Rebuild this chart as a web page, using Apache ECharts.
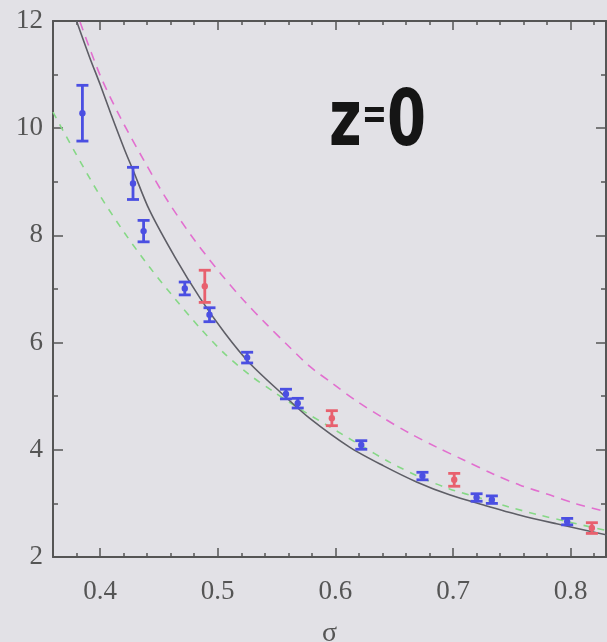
<!DOCTYPE html>
<html>
<head>
<meta charset="utf-8">
<script src="https://cdn.jsdelivr.net/npm/echarts@6/dist/echarts.min.js"></script>
<style>
  html, body { margin: 0; padding: 0; background: #e2e1e6; }
  #chart { width: 607px; height: 642px; }
</style>
</head>
<body>
<div id="chart"></div>
<script>
// Axis ticks
const xMajorTicks = [0.4, 0.5, 0.6, 0.7, 0.8];
const xMinorTicks = [0.38, 0.42, 0.44, 0.46, 0.48, 0.52, 0.54, 0.56, 0.58, 0.62, 0.64, 0.66, 0.68, 0.72, 0.74, 0.76, 0.78, 0.82];

// Solid gray model curve
const fitSigma = [0.380, 0.391, 0.400, 0.409, 0.421, 0.428, 0.442, 0.464, 0.485, 0.506, 0.527, 0.556, 0.578, 0.612, 0.641, 0.669, 0.697, 0.726, 0.757, 0.788, 0.831];
const fitValue = [12.00, 11.33, 10.82, 10.28, 9.59, 9.22, 8.47, 7.58, 6.83, 6.18, 5.62, 5.02, 4.59, 4.05, 3.70, 3.40, 3.16, 2.97, 2.78, 2.62, 2.41];

// Pink dashed curve
const pinkSigma = [0.383, 0.400, 0.417, 0.437, 0.457, 0.479, 0.502, 0.522, 0.542, 0.559, 0.578, 0.598, 0.618, 0.641, 0.663, 0.686, 0.709, 0.734, 0.757, 0.782, 0.805, 0.831];
const pinkValue = [11.98, 10.99, 10.21, 9.41, 8.66, 7.95, 7.30, 6.79, 6.33, 5.96, 5.56, 5.23, 4.91, 4.59, 4.31, 4.05, 3.81, 3.55, 3.34, 3.16, 2.99, 2.84];

// Green dashed curve
const greenSigma = [0.360, 0.379, 0.400, 0.421, 0.442, 0.464, 0.485, 0.506, 0.527, 0.549, 0.570, 0.595, 0.621, 0.646, 0.672, 0.697, 0.723, 0.748, 0.774, 0.799, 0.831];
const greenValue = [10.30, 9.54, 8.74, 8.04, 7.41, 6.81, 6.27, 5.79, 5.40, 5.06, 4.76, 4.43, 4.09, 3.77, 3.49, 3.27, 3.10, 2.93, 2.78, 2.65, 2.49];

// Blue measurements with errors
const blueSigma = [0.385, 0.428, 0.437, 0.472, 0.493, 0.525, 0.558, 0.568, 0.622, 0.674, 0.720, 0.733, 0.797];
const blueValue = [10.28, 8.97, 8.08, 7.01, 6.52, 5.72, 5.04, 4.87, 4.09, 3.51, 3.11, 3.07, 2.66];
const blueError = [0.52, 0.30, 0.20, 0.12, 0.13, 0.10, 0.09, 0.09, 0.08, 0.07, 0.07, 0.07, 0.06];

// Red measurements with errors
const redSigma = [0.489, 0.597, 0.701, 0.818];
const redValue = [7.05, 4.59, 3.44, 2.54];
const redError = [0.30, 0.14, 0.12, 0.10];

const zip = (xs, ys) => xs.map((x, i) => [x, ys[i]]);
const zip3 = (xs, ys, es) => xs.map((x, i) => [x, ys[i], es[i]]);

function errorBar(color) {
  return function (params, api) {
    const x = api.value(0), y = api.value(1), e = api.value(2);
    const hi = api.coord([x, y + e]);
    const lo = api.coord([x, y - e]);
    const mid = api.coord([x, y]);
    const w = 6;
    const st = { stroke: color, lineWidth: 2.8 };
    return {
      type: 'group',
      children: [
        { type: 'line', shape: { x1: hi[0], y1: hi[1], x2: lo[0], y2: lo[1] }, style: st },
        { type: 'line', shape: { x1: hi[0] - w, y1: hi[1], x2: hi[0] + w, y2: hi[1] }, style: st },
        { type: 'line', shape: { x1: lo[0] - w, y1: lo[1], x2: lo[0] + w, y2: lo[1] }, style: st },
        { type: 'circle', shape: { cx: mid[0], cy: mid[1], r: 3.2 }, style: { fill: color } }
      ]
    };
  };
}

const axisColor = '#555';
const labelFont = { fontFamily: "'Liberation Serif', 'DejaVu Serif', serif", fontSize: 27, color: '#555' };

function xAxisDef(position, major, withLabels) {
  return {
    type: 'value', min: 0.36, max: 0.83, position: position, gridIndex: 0,
    axisLine: { show: major, onZero: false, lineStyle: { color: axisColor, width: 2 } },
    axisTick: { show: true, inside: true, length: major ? 9 : 4, customValues: major ? xMajorTicks : xMinorTicks,
                lineStyle: { color: axisColor, width: 1.5 } },
    axisLabel: Object.assign({ show: withLabels, margin: 21, customValues: xMajorTicks,
                formatter: v => v.toFixed(1) }, labelFont),
    splitLine: { show: false },
    name: withLabels ? 'σ' : '',
    nameLocation: 'middle', nameGap: 63,
    nameTextStyle: { fontFamily: "'Liberation Serif', 'DejaVu Serif', serif", fontSize: 28, color: '#555' }
  };
}

function yAxisDef(position, withLabels) {
  return {
    type: 'value', min: 2, max: 12, interval: 2, position: position, gridIndex: 0,
    axisLine: { show: true, onZero: false, lineStyle: { color: axisColor, width: 2 } },
    axisTick: { show: true, inside: true, length: 10, lineStyle: { color: axisColor, width: 1.5 } },
    minorTick: { show: true, splitNumber: 2, length: 5, lineStyle: { color: axisColor, width: 1.5 } },
    axisLabel: Object.assign({ show: withLabels, margin: 10 }, labelFont),
    splitLine: { show: false }
  };
}

const chart = echarts.init(document.getElementById('chart'), null, { renderer: 'canvas' });
chart.setOption({
  backgroundColor: '#e2e1e6',
  animation: false,
  grid: { left: 53, right: 1, top: 21, bottom: 85, containLabel: false, outerBoundsMode: 'none' },
  xAxis: [
    xAxisDef('bottom', true, true),
    xAxisDef('bottom', false, false),
    xAxisDef('top', true, false),
    xAxisDef('top', false, false)
  ],
  yAxis: [
    yAxisDef('left', true),
    yAxisDef('right', false)
  ],
  graphic: [{
    type: 'text', x: 329, y: 86, scaleX: 0.8, z: 10,
    style: {
      text: '{z|z}{eq|=}{z|0}',
      rich: {
        z: { fontFamily: "'Liberation Sans Narrow', 'DejaVu Sans Condensed', sans-serif", fontWeight: 'bold', fontSize: 78, fill: '#151515' },
        eq: { fontFamily: "'Liberation Sans Narrow', 'DejaVu Sans Condensed', sans-serif", fontWeight: 'bold', fontSize: 42, fill: '#151515', padding: [0, 0, 16, 0] }
      }
    }
  }],
  series: [
    { type: 'line', name: 'fit', data: zip(fitSigma, fitValue), smooth: 0.3, showSymbol: false,
      lineStyle: { color: '#5e5e66', width: 1.6 }, clip: true, z: 3 },
    { type: 'line', name: 'pink', data: zip(pinkSigma, pinkValue), smooth: 0.3, showSymbol: false,
      lineStyle: { color: '#e26fcf', width: 1.6, type: [9, 7] }, clip: true, z: 2 },
    { type: 'line', name: 'green', data: zip(greenSigma, greenValue), smooth: 0.3, showSymbol: false,
      lineStyle: { color: '#86d886', width: 1.6, type: [7, 7] }, clip: true, z: 2 },
    { type: 'custom', name: 'blue', renderItem: errorBar('#4b4fe2'), data: zip3(blueSigma, blueValue, blueError),
      encode: { x: 0, y: 1 }, clip: true, z: 5 },
    { type: 'custom', name: 'red', renderItem: errorBar('#e8606e'), data: zip3(redSigma, redValue, redError),
      encode: { x: 0, y: 1 }, clip: true, z: 5 }
  ]
});
</script>
</body>
</html>
